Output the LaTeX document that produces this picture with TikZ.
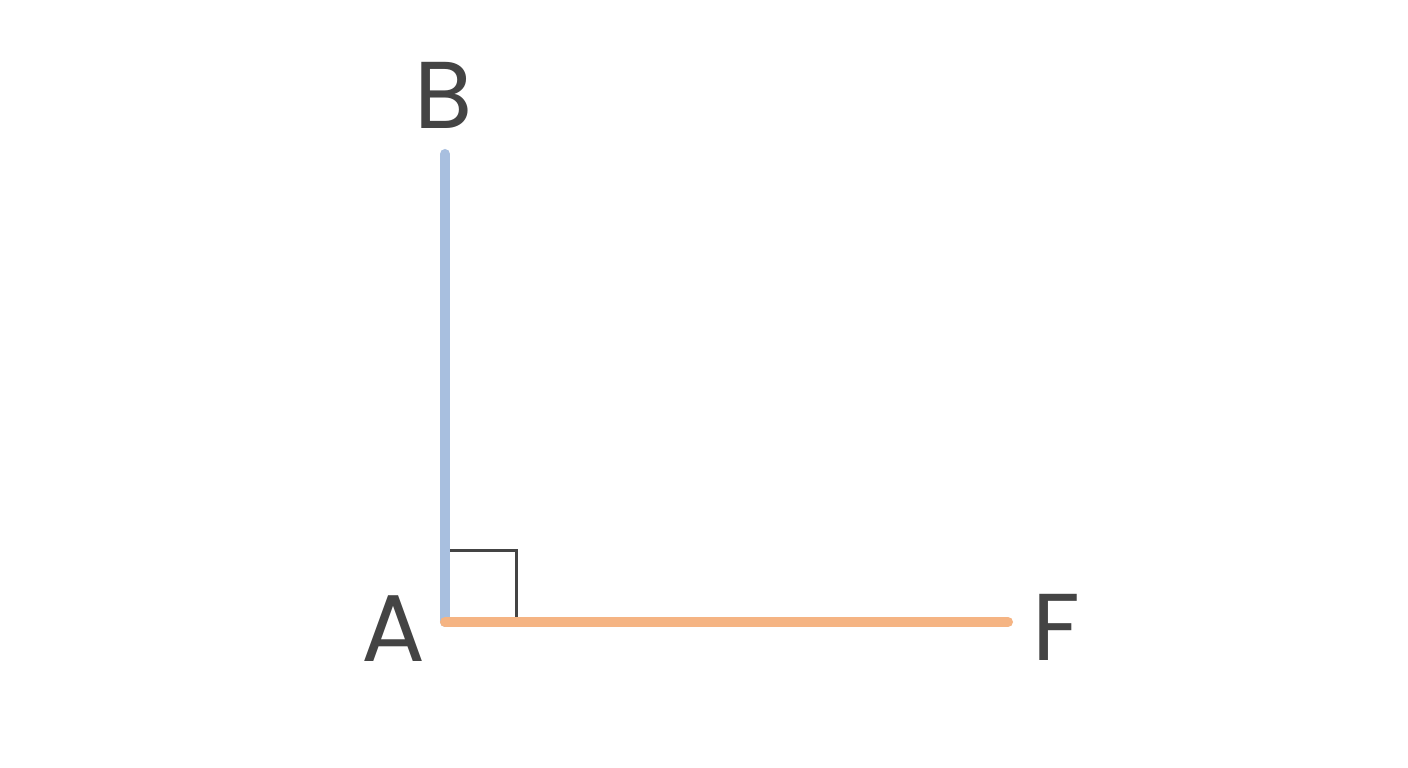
\documentclass[tikz,border=0pt]{standalone}
\usepackage{fontspec}
\setmainfont{Poppins}
\definecolor{segblue}{HTML}{A8BFDF}
\definecolor{segorange}{HTML}{F5B483}
\definecolor{ink}{HTML}{444444}
\begin{document}
\begin{tikzpicture}[x=0.01cm,y=-0.01cm,
  seg/.style={line width=0.1cm,line cap=round},
  lbl/.style={text=ink,font=\fontsize{27}{30}\selectfont,inner sep=0pt,anchor=center},
  rightmark/.style={draw=ink,line width=0.03cm}]
\useasboundingbox[fill=white] (0,0) rectangle (1408,768);
\coordinate (A) at (445,622);
\coordinate (B) at (445,154);
\coordinate (F) at (1008,622);
\coordinate (m1) at (450,551);
\coordinate (m2) at (516,551);
\coordinate (m3) at (516,617);
\draw[seg,segblue] (A) -- (B);
\draw[seg,segorange] (A) -- (F);
\draw[rightmark] (m1) -- (m2) -- (m3);
\node[lbl] (lA) at (393,629) {A};
\node[lbl] (lB) at (444,95) {B};
\node[lbl] (lF) at (1056,627) {F};
\end{tikzpicture}
\end{document}
